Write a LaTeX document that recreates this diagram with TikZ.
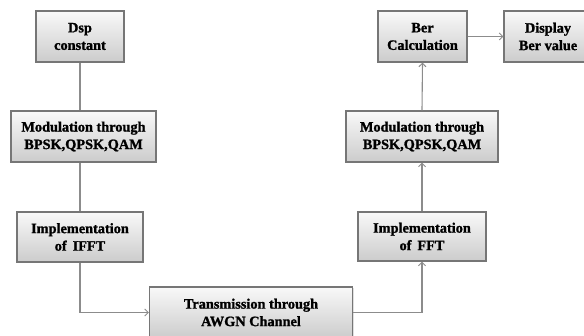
\documentclass[tikz,border=0pt]{standalone}
\usepackage{fontspec}
\setmainfont{Liberation Serif}
\newfontfamily\heavyserif[FakeBold=1.3]{Liberation Serif Bold}
\usetikzlibrary{arrows.meta,shadows}
\definecolor{edgegray}{HTML}{767676}
\definecolor{linkgray}{HTML}{8C8C8C}
\begin{document}
\begin{tikzpicture}[x=1pt,y=-1pt,
  block/.style={draw=edgegray, line width=1.1pt, top color=gray!5, bottom color=gray!40,
    drop shadow={shadow xshift=1.2pt, shadow yshift=-1.2pt, opacity=0.25},
    align=center, inner sep=2pt,
    font=\heavyserif\fontsize{14.3}{17.5}\selectfont},
  link/.style={draw=linkgray, line width=1.1pt},
  flow/.style={link, -{Straight Barb[length=3.5pt,width=7pt,line width=1pt]}}]
\useasboundingbox (0,0) rectangle (584,336);
\node[block, minimum width=88pt, minimum height=51pt] (dsp) at (80,36.5) {Dsp\\constant};
\node[block, minimum width=145pt, minimum height=51pt] (modl) at (83.5,136.5) {Modulation through\\BPSK,QPSK,QAM};
\node[block, minimum width=126pt, minimum height=50pt] (ifft) at (80,237) {Implementation\\of\, IFFT};
\node[block, minimum width=203pt, minimum height=51pt] (awgn) at (251,312.5) {Transmission through\\AWGN Channel};
\node[block, minimum width=128pt, minimum height=49pt] (fft) at (422,236.5) {Implementation\\of\, FFT};
\node[block, minimum width=152pt, minimum height=51pt] (modr) at (422,136.5) {Modulation through\\BPSK,QPSK,QAM};
\node[block, minimum width=89pt, minimum height=51pt] (ber) at (422.5,36.5) {Ber\\Calculation};
\node[block, minimum width=88pt, minimum height=51pt] (disp) at (548,36.5) {Display\\Ber value};
% transmitter chain
\draw[link] (dsp.south) -- (dsp.south |- modl.north);
\draw[link] (ifft.north |- modl.south) -- (ifft.north);
\draw[flow] (ifft.south) |- (awgn.west);
% receiver chain
\draw[flow] (awgn.east) -| (fft.south);
\draw[flow] (fft.north) -- (modr.south);
\draw[flow] (modr.north) -- (ber.south);
\draw[flow] (ber.east) -- (disp.west);
\end{tikzpicture}
\end{document}
